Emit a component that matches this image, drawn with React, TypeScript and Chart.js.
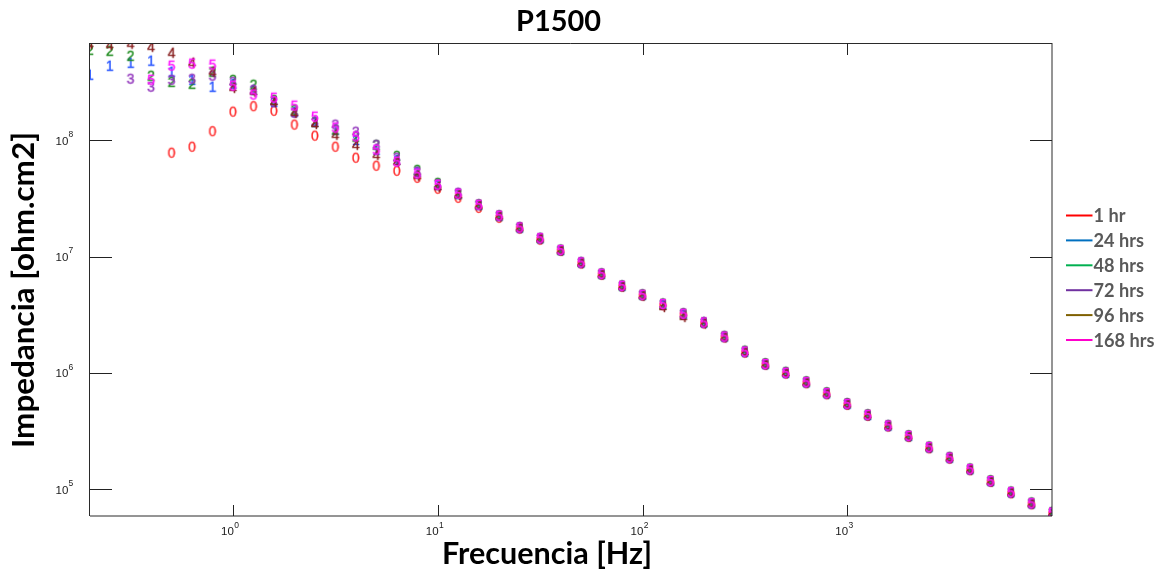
import React, { useEffect, useRef } from 'react';
import { Chart, registerables } from 'chart.js';

Chart.register(...registerables);

// Frequencies [Hz] (10 points per decade)
const frequencies = [
  0.2, 0.25, 0.316, 0.398, 0.501, 0.631, 0.794,
  1, 1.259, 1.585, 1.995, 2.512, 3.162, 3.981, 5.012, 6.31, 7.943,
  10, 12.59, 15.85, 19.95, 25.12, 31.62, 39.81, 50.12, 63.1, 79.43,
  100, 125.9, 158.5, 199.5, 251.2, 316.2, 398.1, 501.2, 631, 794.3,
  1000, 1259, 1585, 1995, 2512, 3162, 3981, 5012, 6310, 7943,
  10000,
];

const seriesNames = ['1 hr', '24 hrs', '48 hrs', '72 hrs', '96 hrs', '168 hrs'];
const markerDigits = ['0', '1', '2', '3', '4', '5'];
const markerColors = ['#FF2A2A', '#1F4FFF', '#1A8A1A', '#9236BC', '#882020', '#FF14FF'];
const legendColors = ['#FF0000', '#0070C0', '#00B050', '#7030A0', '#7F6000', '#FF00CC'];

// |Z| [ohm.cm2]
const hr1 = [
  null, null, null, null,
  7.84e7, 8.83e7, 1.20e8, 1.77e8, 1.97e8, 1.80e8, 1.37e8, 1.10e8, 8.83e7, 7.10e7,
  6.06e7, 5.48e7, 4.77e7, 3.84e7, 3.21e7, 2.63e7, 2.16e7, 1.74e7, 1.40e7, 1.12e7,
  8.72e6, 6.97e6, 5.49e6, 4.60e6, 3.82e6, 3.16e6, 2.66e6, 2.01e6, 1.49e6, 1.17e6,
  9.84e5, 8.13e5, 6.54e5, 5.29e5, 4.25e5, 3.44e5, 2.80e5, 2.24e5, 1.82e5, 1.45e5,
  1.15e5, 9.18e4, 7.38e4, 6.13e4,
];
const hrs24 = [
  3.68e8, 4.40e8, 4.67e8, 4.86e8, 3.91e8, 3.33e8, 2.90e8, 3.08e8, 2.73e8, 2.15e8,
  1.77e8, 1.45e8, 1.24e8, 1.01e8, 8.32e7, 6.82e7, 5.38e7, 4.15e7, 3.47e7, 2.79e7,
  2.25e7, 1.78e7, 1.44e7, 1.14e7, 8.90e6, 7.11e6, 5.60e6, 4.69e6, 3.90e6, 3.22e6,
  2.71e6, 2.05e6, 1.52e6, 1.19e6, 1.00e6, 8.30e5, 6.67e5, 5.40e5, 4.34e5, 3.51e5,
  2.86e5, 2.29e5, 1.86e5, 1.48e5, 1.17e5, 9.37e4, 7.53e4, 6.25e4,
];
const hrs48 = [
  6.04e8, 5.92e8, 5.36e8, 3.61e8, 3.20e8, 3.08e8, 3.91e8, 3.33e8, 3.02e8, 2.24e8,
  1.84e8, 1.45e8, 1.24e8, 1.08e8, 9.18e7, 7.38e7, 5.59e7, 4.32e7, 3.50e7, 2.82e7,
  2.27e7, 1.80e7, 1.45e7, 1.15e7, 9.00e6, 7.18e6, 5.66e6, 4.74e6, 3.95e6, 3.26e6,
  2.74e6, 2.08e6, 1.55e6, 1.21e6, 1.02e6, 8.45e5, 6.80e5, 5.50e5, 4.40e5, 3.56e5,
  2.90e5, 2.32e5, 1.89e5, 1.50e5, 1.19e5, 9.50e4, 7.65e4, 6.35e4,
];
const hrs72 = [
  null, null, 3.40e8, 2.90e8, 3.33e8, 3.40e8, 3.61e8, 3.20e8, 2.73e8, 2.15e8,
  1.73e8, 1.45e8, 1.37e8, 1.19e8, 9.18e7, 7.10e7, 5.38e7, 4.20e7, 3.55e7, 2.80e7,
  2.25e7, 1.78e7, 1.44e7, 1.14e7, 8.90e6, 7.11e6, 5.60e6, 4.69e6, 3.90e6, 3.22e6,
  2.71e6, 2.05e6, 1.52e6, 1.19e6, 1.00e6, 8.30e5, 6.67e5, 5.40e5, 4.34e5, 3.51e5,
  2.86e5, 2.29e5, 1.86e5, 1.48e5, 1.17e5, 9.37e4, 7.53e4, 6.25e4,
];
const hrs96 = [
  6.81e8, 6.67e8, 6.81e8, 6.41e8, 5.69e8, 4.67e8, 3.91e8, 2.84e8, 2.63e8, 2.15e8,
  1.73e8, 1.39e8, 1.12e8, 9.18e7, 7.53e7, 6.56e7, 4.97e7, 3.99e7, 3.40e7, 2.76e7,
  2.23e7, 1.77e7, 1.43e7, 1.13e7, 8.80e6, 7.05e6, 5.55e6, 4.62e6, 3.69e6, 3.03e6,
  2.66e6, 2.02e6, 1.51e6, 1.18e6, 9.95e5, 8.25e5, 6.62e5, 5.36e5, 4.31e5, 3.49e5,
  2.84e5, 2.27e5, 1.85e5, 1.47e5, 1.16e5, 9.30e4, 7.48e4, 6.20e4,
];
const hrs168 = [
  null, null, null, 3.33e8, 4.40e8, 4.58e8, 4.49e8, 2.96e8, 2.48e8, 2.33e8,
  1.99e8, 1.60e8, 1.29e8, 1.08e8, 8.32e7, 6.56e7, 5.17e7, 4.15e7, 3.47e7, 2.79e7,
  2.25e7, 1.78e7, 1.44e7, 1.14e7, 8.90e6, 7.11e6, 5.60e6, 4.69e6, 3.90e6, 3.22e6,
  2.71e6, 2.05e6, 1.52e6, 1.19e6, 1.00e6, 8.30e5, 6.67e5, 5.40e5, 4.34e5, 3.51e5,
  2.86e5, 2.29e5, 1.86e5, 1.48e5, 1.17e5, 9.37e4, 7.53e4, 6.25e4,
];

const seriesValues = [hr1, hrs24, hrs48, hrs72, hrs96, hrs168];

const xTickValues = [1, 10, 100, 1000];
const xTickExponents = ['0', '1', '2', '3'];
const yTickValues = [1e5, 1e6, 1e7, 1e8];
const yTickExponents = ['5', '6', '7', '8'];

const titleText = 'P1500';
const xTitleText = 'Frecuencia [Hz]';
const yTitleText = 'Impedancia [ohm.cm2]';

const BOLD_FAMILY = 'Lato, "Open Sans", sans-serif';
const TICK_FAMILY = '"Liberation Sans", Arial, sans-serif';

function makeMarker(digit: string, color: string): HTMLCanvasElement {
  const c = document.createElement('canvas');
  c.width = 14;
  c.height = 18;
  const g = c.getContext('2d')!;
  g.font = `14px ${TICK_FAMILY}`;
  g.fillStyle = color;
  g.strokeStyle = color;
  g.lineWidth = 0.35;
  g.textAlign = 'center';
  g.textBaseline = 'alphabetic';
  const by = 9 + 0.358 * 14;
  g.fillText(digit, 7, by);
  g.strokeText(digit, 7, by);
  return c;
}

function fitSize(ctx: CanvasRenderingContext2D, text: string, target: number): number {
  ctx.font = `bold 100px ${BOLD_FAMILY}`;
  const w = ctx.measureText(text).width;
  return (100 * target) / w;
}

const framePlugin = {
  id: 'framePlugin',
  afterDraw(chart: any) {
    const { ctx, chartArea: a, scales } = chart;
    const xs = scales.x;
    const ys = scales.y;
    ctx.save();

    // plot box
    ctx.strokeStyle = '#2a2a2a';
    ctx.lineWidth = 1;
    ctx.beginPath();
    ctx.moveTo(a.left - 0.5, a.top + 0.5);
    ctx.lineTo(a.right, a.top + 0.5);
    ctx.moveTo(a.left - 0.5, a.top);
    ctx.lineTo(a.left - 0.5, a.bottom);
    ctx.moveTo(a.left, a.bottom);
    ctx.lineTo(a.right, a.bottom);
    ctx.moveTo(a.right, a.top);
    ctx.lineTo(a.right, a.bottom);
    ctx.stroke();

    // ticks
    ctx.strokeStyle = '#222';
    ctx.beginPath();
    xTickValues.forEach((v) => {
      const px = Math.round(xs.getPixelForValue(v)) + 0.5;
      ctx.moveTo(px, a.bottom);
      ctx.lineTo(px, a.bottom - 11);
      ctx.moveTo(px, a.top);
      ctx.lineTo(px, a.top + 12);
    });
    yTickValues.forEach((v) => {
      const py = Math.round(ys.getPixelForValue(v)) + 0.5;
      ctx.moveTo(a.left, py);
      ctx.lineTo(a.left + 22, py);
      ctx.moveTo(a.right, py);
      ctx.lineTo(a.right - 22, py);
    });
    ctx.stroke();

    // tick labels
    ctx.fillStyle = '#1a1a1a';
    xTickValues.forEach((v, i) => {
      const px = xs.getPixelForValue(v);
      ctx.font = `11.5px ${TICK_FAMILY}`;
      ctx.textAlign = 'right';
      ctx.textBaseline = 'alphabetic';
      ctx.fillText('10', px + 0.8, a.bottom + 18.5);
      ctx.font = `8.5px ${TICK_FAMILY}`;
      ctx.textAlign = 'left';
      ctx.fillText(xTickExponents[i], px + 1.2, a.bottom + 12);
    });
    yTickValues.forEach((v, i) => {
      const py = ys.getPixelForValue(v);
      ctx.font = `11.5px ${TICK_FAMILY}`;
      ctx.textAlign = 'right';
      ctx.textBaseline = 'alphabetic';
      ctx.fillText('10', 68.3, py + 4.6);
      ctx.font = `8.5px ${TICK_FAMILY}`;
      ctx.textAlign = 'left';
      ctx.fillText(yTickExponents[i], 68.6, py - 3.2);
    });

    // titles
    ctx.fillStyle = '#000';
    ctx.textBaseline = 'alphabetic';
    ctx.textAlign = 'center';
    let s = fitSize(ctx, titleText, 85);
    ctx.font = `bold ${s}px ${BOLD_FAMILY}`;
    ctx.fillText(titleText, 558.5, 31);

    s = fitSize(ctx, xTitleText, 210);
    ctx.font = `bold ${s}px ${BOLD_FAMILY}`;
    ctx.fillText(xTitleText, 547, 564);

    s = fitSize(ctx, yTitleText, 316);
    ctx.font = `bold ${s}px ${BOLD_FAMILY}`;
    ctx.save();
    ctx.translate(33.5, 290);
    ctx.rotate(-Math.PI / 2);
    ctx.fillText(yTitleText, 0, 0);
    ctx.restore();

    // legend
    const ls = fitSize(ctx, '168 hrs', 61);
    seriesNames.forEach((name, i) => {
      const ly = 215.5 + 24.9 * i;
      ctx.strokeStyle = legendColors[i];
      ctx.lineWidth = 2;
      ctx.beginPath();
      ctx.moveTo(1066, ly);
      ctx.lineTo(1092.5, ly);
      ctx.stroke();
      ctx.fillStyle = '#595959';
      ctx.font = `bold ${ls}px ${BOLD_FAMILY}`;
      ctx.textAlign = 'left';
      ctx.fillText(name, 1093.5, ly + 0.358 * ls);
    });

    ctx.restore();
  },
};

export default function App() {
  const canvasRef = useRef<HTMLCanvasElement | null>(null);

  useEffect(() => {
    const canvas = canvasRef.current;
    if (!canvas) return;
    const datasets = seriesValues.map((vals, i) => ({
      label: seriesNames[i],
      data: frequencies
        .map((f, j) => ({ x: f, y: vals[j] }))
        .filter((p) => p.y !== null && p.y !== undefined),
      pointStyle: makeMarker(markerDigits[i], markerColors[i]),
      pointRadius: 7,
      pointHoverRadius: 7,
      borderColor: legendColors[i],
      backgroundColor: legendColors[i],
      showLine: false,
      clip: 0,
      order: 5 - i,
    }));

    const chart = new Chart(canvas, {
      type: 'scatter',
      data: { datasets } as any,
      options: {
        responsive: false,
        animation: false,
        devicePixelRatio: 1,
        events: [],
        layout: { padding: { left: 90, top: 43, right: 106, bottom: 55 } },
        plugins: {
          legend: { display: false },
          tooltip: { enabled: false },
          title: { display: false },
        },
        scales: {
          x: { type: 'logarithmic', min: 0.2, max: 10000, display: false },
          y: { type: 'logarithmic', min: 58500, max: 6.9e8, display: false },
        },
      } as any,
      plugins: [framePlugin],
    });
    return () => chart.destroy();
  }, []);

  return (
    <div style={{ position: 'absolute', left: 0, top: 0, width: 1158, height: 571, background: '#fff' }}>
      <canvas ref={canvasRef} width={1158} height={571} />
    </div>
  );
}
